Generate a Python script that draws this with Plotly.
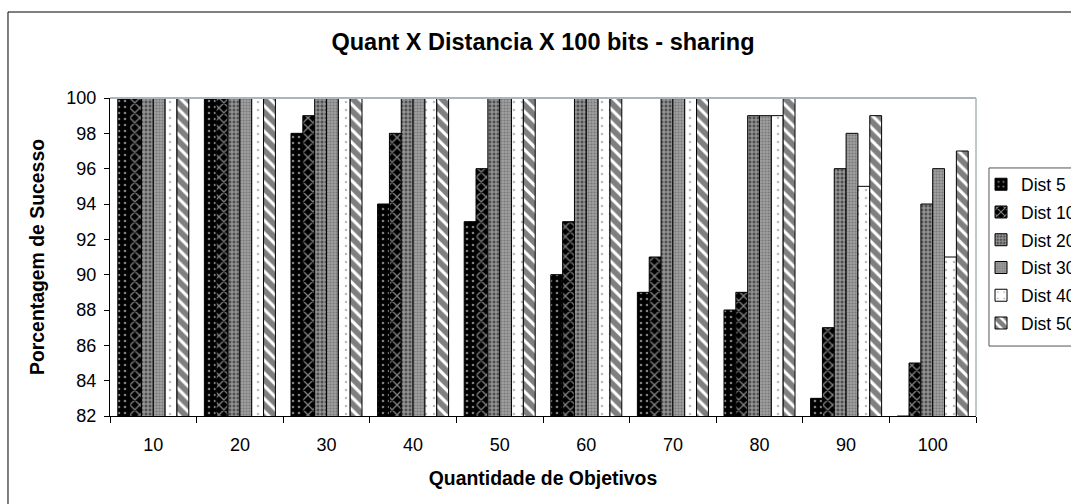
import plotly.graph_objects as go

categories = ["10", "20", "30", "40", "50", "60", "70", "80", "90", "100"]
series_names = ["Dist 5", "Dist 10", "Dist 20", "Dist 30", "Dist 40", "Dist 50"]
dist5 = [100, 100, 98, 94, 93, 90, 89, 88, 83, 82]
dist10 = [100, 100, 99, 98, 96, 93, 91, 89, 87, 85]
dist20 = [100, 100, 100, 100, 100, 100, 100, 99, 96, 94]
dist30 = [100, 100, 100, 100, 100, 100, 100, 99, 98, 96]
dist40 = [100, 100, 100, 100, 100, 100, 100, 99, 95, 91]
dist50 = [100, 100, 100, 100, 100, 100, 100, 100, 99, 97]
series_values = [dist5, dist10, dist20, dist30, dist40, dist50]
y_ticks = [82, 84, 86, 88, 90, 92, 94, 96, 98, 100]

styles = [
    dict(shape=".", bgcolor="#000000", fgcolor="#ffffff", size=6, solidity=0.15),
    dict(shape="x", bgcolor="#000000", fgcolor="#ffffff", size=7, solidity=0.35),
    dict(shape="+", bgcolor="#505050", fgcolor="#ffffff", size=4, solidity=0.45),
    dict(shape=".", bgcolor="#a0a0a0", fgcolor="#505050", size=3, solidity=0.4),
    dict(shape=".", bgcolor="#ffffff", fgcolor="#777777", size=8, solidity=0.08),
    dict(shape="\\", bgcolor="#ffffff", fgcolor="#000000", size=9, solidity=0.65),
]

fig = go.Figure()
for name, vals, st in zip(series_names, series_values, styles):
    fig.add_trace(go.Bar(
        x=categories, y=vals, name=name, legendgroup=name,
        marker=dict(
            color=st["bgcolor"],
            line=dict(color="#000000", width=1),
            pattern=dict(shape=st["shape"], bgcolor=st["bgcolor"], fgcolor=st["fgcolor"],
                         size=st["size"], solidity=st["solidity"], fillmode="overlay"),
        ),
    ))

fig.update_layout(
    width=1071, height=504,
    margin=dict(l=110, r=95, t=98, b=88, autoexpand=False),
    paper_bgcolor="#ffffff", plot_bgcolor="#ffffff",
    barmode="group", bargap=0.18, bargroupgap=0,
    font=dict(family="Liberation Sans, Arial, sans-serif", size=18, color="#000000"),
    title=dict(text="<b>Quant X Distancia X 100 bits - sharing</b>",
               x=0.5, xanchor="center", xref="paper", y=0.917, yanchor="middle",
               font=dict(size=23.5)),
    legend=dict(x=1.0058, y=0.785, xanchor="left", yanchor="top",
                borderwidth=0, bgcolor="rgba(0,0,0,0)",
                font=dict(size=17.5), tracegroupgap=2, itemwidth=30),
    showlegend=True,
)
fig.update_xaxes(
    type="category", tickson="boundaries", ticks="outside", ticklen=6,
    tickcolor="#000000", showline=True, linecolor="#000000", linewidth=1,
    showgrid=False, tickfont=dict(size=18), ticklabelstandoff=12,
    title=dict(text="<b>Quantidade de Objetivos</b>", font=dict(size=19.4), standoff=17),
)
fig.update_yaxes(
    range=[82, 100], tickvals=y_ticks, ticks="outside", ticklen=5,
    tickcolor="#000000", showline=True, linecolor="#000000", linewidth=1,
    showgrid=False, zeroline=False, tickfont=dict(size=18), ticklabelstandoff=4,
    title=dict(text="<b>Porcentagem de Sucesso</b>", font=dict(size=19.4), standoff=16),
)
# plot-area top/right border (gray)
fig.add_shape(type="line", xref="paper", yref="paper", x0=0, x1=1, y0=1, y1=1,
              line=dict(color="#a8b8b8", width=2))
fig.add_shape(type="line", xref="paper", yref="paper", x0=1, x1=1, y0=0, y1=1,
              line=dict(color="#a8b8b8", width=1.5))
# legend frame
fig.add_shape(type="rect", xref="paper", yref="paper", x0=1.015, x1=1.25, y0=0.22, y1=0.78,
              line=dict(color="#555555", width=1), fillcolor="#ffffff", layer="below")
# outer chart border
fig.add_shape(type="rect", xref="paper", yref="paper", x0=-0.1178, x1=1.3, y0=-0.4, y1=1.2704,
              line=dict(color="#000000", width=1))

fig.write_html("out.html")
